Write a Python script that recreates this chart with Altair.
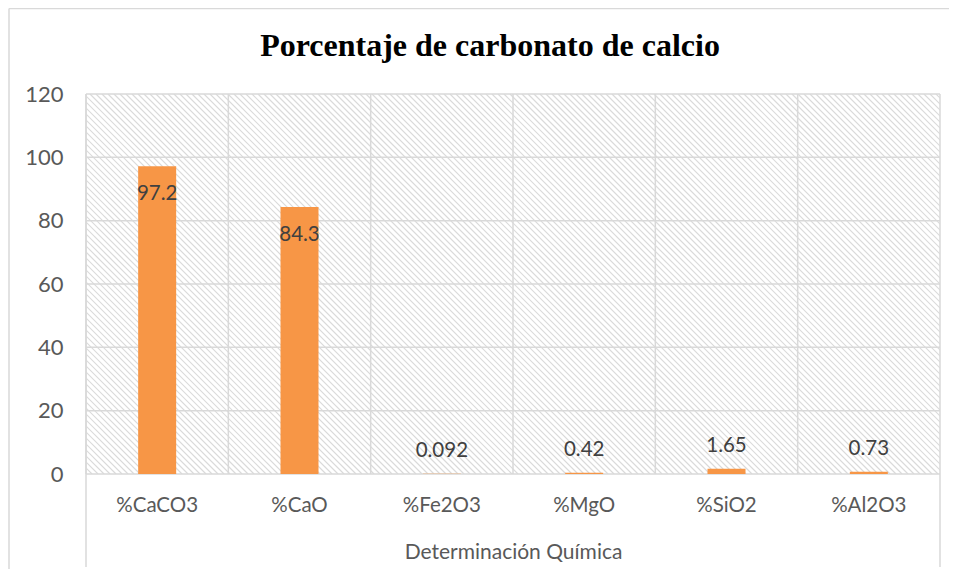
import altair as alt
import pandas as pd

categories = ["%CaCO3", "%CaO", "%Fe2O3", "%MgO", "%SiO2", "%Al2O3"]
values = [97.2, 84.3, 0.092, 0.42, 1.65, 0.73]
value_labels = ["97.2", "84.3", "0.092", "0.42", "1.65", "0.73"]
y_ticks = [0, 20, 40, 60, 80, 100, 120]

df = pd.DataFrame({"cat": categories, "val": values, "lbl": value_labels})
grid_df = pd.DataFrame({"t": y_ticks})
one = pd.DataFrame({"d": [0]})

W, H = 854, 380
GRID = "#d9d9d9"
FONT = "Lato"

xscale = alt.Scale(domain=categories, paddingInner=0, paddingOuter=0)
yscale = alt.Scale(domain=[0, 120], nice=False)

xaxis = alt.Axis(
    title="Determinación Química",
    labelAngle=0,
    domain=False,
    ticks=False,
    grid=False,
    labelBaseline="middle",
    labelPadding=31,
    labelFont=FONT,
    labelFontSize=20.5,
    labelColor="#595959",
    titleFont=FONT,
    titleFontSize=21,
    titleFontWeight="normal",
    titleColor="#595959",
    titleY=78,
    titleBaseline="middle",
)
yaxis = alt.Axis(
    title=None,
    values=y_ticks,
    grid=False,
    domain=False,
    ticks=False,
    labelPadding=23,
    labelFont=FONT,
    labelFontSize=22,
    labelColor="#595959",
)

X = alt.X("cat:N", sort=categories, scale=xscale, axis=xaxis)

# background hatch (decorative texture)
hatch = alt.Chart(alt.sequence(-H, W + 6, 6, as_="c")).transform_calculate(
    c2="datum.c + 380", top="380", bot="0"
).mark_rule(clip=True, color="#dadada", strokeWidth=1.2).encode(
    x=alt.X("c:Q", scale=alt.Scale(domain=[0, W], nice=False, zero=False), axis=None),
    x2="c2:Q",
    y=alt.Y("top:Q", scale=alt.Scale(domain=[0, H], nice=False), axis=None),
    y2="bot:Q",
)

hgrid = alt.Chart(grid_df).mark_rule(color=GRID, strokeWidth=1.5).encode(
    y=alt.Y("t:Q", scale=yscale, axis=yaxis)
)

vgrid = alt.Chart(df).mark_rule(color=GRID, strokeWidth=1.5).encode(
    x=alt.X("cat:N", sort=categories, bandPosition=0, scale=xscale, axis=xaxis)
)

bars = alt.Chart(df).mark_bar(size=38, color="#F79646").encode(
    x=X,
    y=alt.Y("val:Q", scale=yscale, axis=yaxis),
)

text_big = alt.Chart(df).transform_filter("datum.val > 50").mark_text(
    dy=28, baseline="middle", font=FONT, fontSize=20.5, color="#404040"
).encode(x=X, y=alt.Y("val:Q", scale=yscale, axis=yaxis), text="lbl:N")

text_small = alt.Chart(df).transform_filter("datum.val <= 50").mark_text(
    dy=-23, baseline="middle", font=FONT, fontSize=20.5, color="#404040"
).encode(x=X, y=alt.Y("val:Q", scale=yscale, axis=yaxis), text="lbl:N")

left_line = alt.Chart(one).mark_rule(color=GRID, strokeWidth=1.5).encode(
    x=alt.value(0), y=alt.value(0), y2=alt.value(473)
)
right_line = alt.Chart(one).mark_rule(color=GRID, strokeWidth=1.5).encode(
    x=alt.value(W), y=alt.value(0), y2=alt.value(473)
)
border_left = alt.Chart(one).mark_rule(color=GRID, strokeWidth=1.5).encode(
    x=alt.value(-77), y=alt.value(-85.5), y2=alt.value(480)
)
border_top = alt.Chart(one).mark_rule(color=GRID, strokeWidth=1.5).encode(
    x=alt.value(-77), x2=alt.value(880), y=alt.value(-85.5)
)

inner = alt.layer(hgrid, vgrid, bars, text_big, text_small, left_line, right_line, border_left, border_top)

chart = alt.layer(hatch, inner).resolve_scale(x="independent", y="independent").properties(
    width=W,
    height=H,
    padding={"left": 78, "top": 86, "right": 9, "bottom": 95},
    autosize="none",
    title=alt.TitleParams(
        "Porcentaje de carbonato de calcio",
        font="Liberation Serif",
        fontSize=32,
        fontWeight="bold",
        color="black",
        anchor="middle",
        frame="group",
        dx=-23,
        offset=-80,
        baseline="alphabetic",
    ),
).configure_view(stroke=None)

chart.save("out.html", embed_options={"renderer": "svg", "actions": False})
